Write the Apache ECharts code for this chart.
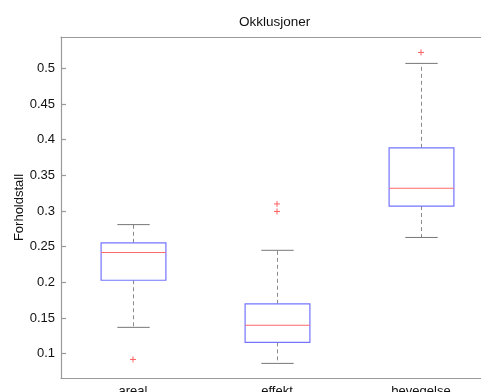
<!DOCTYPE html>
<html>
<head>
<meta charset="utf-8">
<script src="https://cdn.jsdelivr.net/npm/echarts@6/dist/echarts.min.js"></script>
<style>
  html, body { margin: 0; padding: 0; background: #fff; }
  #chart { width: 481px; height: 392px; }
</style>
</head>
<body>
<div id="chart"></div>
<script>
// Box-plot summary per group
const categories = ['areal', 'effekt', 'bevegelse'];
const whiskerLow = [0.137, 0.0865, 0.263];
const quartile1 = [0.203, 0.116, 0.307];
const medians = [0.242, 0.140, 0.332];
const quartile3 = [0.2555, 0.170, 0.3887];
const whiskerHigh = [0.281, 0.245, 0.507];
const outliers = [[0.092], [0.310, 0.2995], [0.5224]];
const yTicks = [0.1, 0.15, 0.2, 0.25, 0.3, 0.35, 0.4, 0.45, 0.5];

const boxData = categories.map((c, i) => [i, whiskerLow[i], quartile1[i], medians[i], quartile3[i], whiskerHigh[i]]);
const outlierData = [];
outliers.forEach((vals, i) => vals.forEach(v => outlierData.push([i, v])));

const FONT = 'Liberation Sans, Arial, Helvetica, sans-serif';

function renderBox(params, api) {
  const idx = api.value(0);
  const band = api.size([1, 0])[0];
  const boxW = band * 0.45;
  const capW = band * 0.225;
  const pLow = api.coord([idx, api.value(1)]);
  const pQ1 = api.coord([idx, api.value(2)]);
  const pMed = api.coord([idx, api.value(3)]);
  const pQ3 = api.coord([idx, api.value(4)]);
  const pHigh = api.coord([idx, api.value(5)]);
  const x = Math.round(pMed[0]) + 0.5;
  const dashStyle = { stroke: '#8a8a8a', lineWidth: 1, lineDash: [4, 3] };
  const capStyle = { stroke: '#777', lineWidth: 1 };
  return {
    type: 'group',
    children: [
      { type: 'line', shape: { x1: x, y1: pQ3[1], x2: x, y2: pHigh[1] }, style: dashStyle },
      { type: 'line', shape: { x1: x, y1: pQ1[1], x2: x, y2: pLow[1] }, style: dashStyle },
      { type: 'line', shape: { x1: x - capW / 2, y1: pHigh[1], x2: x + capW / 2, y2: pHigh[1] }, style: capStyle },
      { type: 'line', shape: { x1: x - capW / 2, y1: pLow[1], x2: x + capW / 2, y2: pLow[1] }, style: capStyle },
      { type: 'rect', shape: { x: x - boxW / 2, y: pQ3[1], width: boxW, height: pQ1[1] - pQ3[1] },
        style: { fill: 'none', stroke: '#7474ff', lineWidth: 1.2 } },
      { type: 'line', shape: { x1: x - boxW / 2, y1: pMed[1], x2: x + boxW / 2, y2: pMed[1] },
        style: { stroke: '#ff6a6a', lineWidth: 1.1 } }
    ]
  };
}

function renderOutlier(params, api) {
  const p = api.coord([api.value(0), api.value(1)]);
  const h = 3;
  const st = { stroke: '#ff6060', lineWidth: 1 };
  return {
    type: 'group',
    children: [
      { type: 'line', shape: { x1: p[0] - h, y1: p[1], x2: p[0] + h, y2: p[1] }, style: st },
      { type: 'line', shape: { x1: p[0], y1: p[1] - h, x2: p[0], y2: p[1] + h }, style: st }
    ]
  };
}

const axisLineStyle = { color: '#9a9a9a', width: 1.2 };

const chart = echarts.init(document.getElementById('chart'), null, { renderer: 'canvas' });
chart.setOption({
  animation: false,
  backgroundColor: '#fff',
  title: {
    text: 'Okklusjoner',
    left: 239, top: 15, padding: 0,
    textStyle: { fontFamily: FONT, fontSize: 13.5, fontWeight: 'normal', color: '#111' }
  },
  grid: { left: 61, top: 37, right: -12, bottom: 14, containLabel: false, outerBoundsMode: 'none' },
  xAxis: [
    {
      type: 'category', data: categories, position: 'bottom',
      axisLine: { lineStyle: axisLineStyle },
      axisTick: { inside: true, alignWithLabel: true, length: 5, lineStyle: axisLineStyle },
      axisLabel: { fontFamily: FONT, fontSize: 13, color: '#111', margin: 7 },
      splitLine: { show: false }
    },
    {
      type: 'category', data: categories, position: 'top',
      axisLine: { lineStyle: axisLineStyle },
      axisTick: { inside: true, alignWithLabel: true, length: 5, lineStyle: axisLineStyle },
      axisLabel: { show: false },
      splitLine: { show: false }
    }
  ],
  yAxis: {
    type: 'value', min: 0.066, max: 0.544,
    name: 'Forholdstall', nameLocation: 'middle', nameGap: 35, nameMoveOverlap: false,
    nameTextStyle: { fontFamily: FONT, fontSize: 13, color: '#111' },
    axisLine: { show: true, lineStyle: axisLineStyle },
    axisTick: { show: true, inside: true, length: 5, customValues: yTicks, lineStyle: axisLineStyle },
    axisLabel: {
      customValues: yTicks, fontFamily: FONT, fontSize: 13, color: '#111', margin: 6,
      formatter: v => String(parseFloat(v.toFixed(2)))
    },
    splitLine: { show: false }
  },
  series: [
    { type: 'custom', xAxisIndex: 0, renderItem: renderBox, data: boxData,
      encode: { x: 0, y: [1, 2, 3, 4, 5] } },
    { type: 'custom', xAxisIndex: 0, renderItem: renderOutlier, data: outlierData,
      encode: { x: 0, y: 1 } }
  ]
});
</script>
</body>
</html>
